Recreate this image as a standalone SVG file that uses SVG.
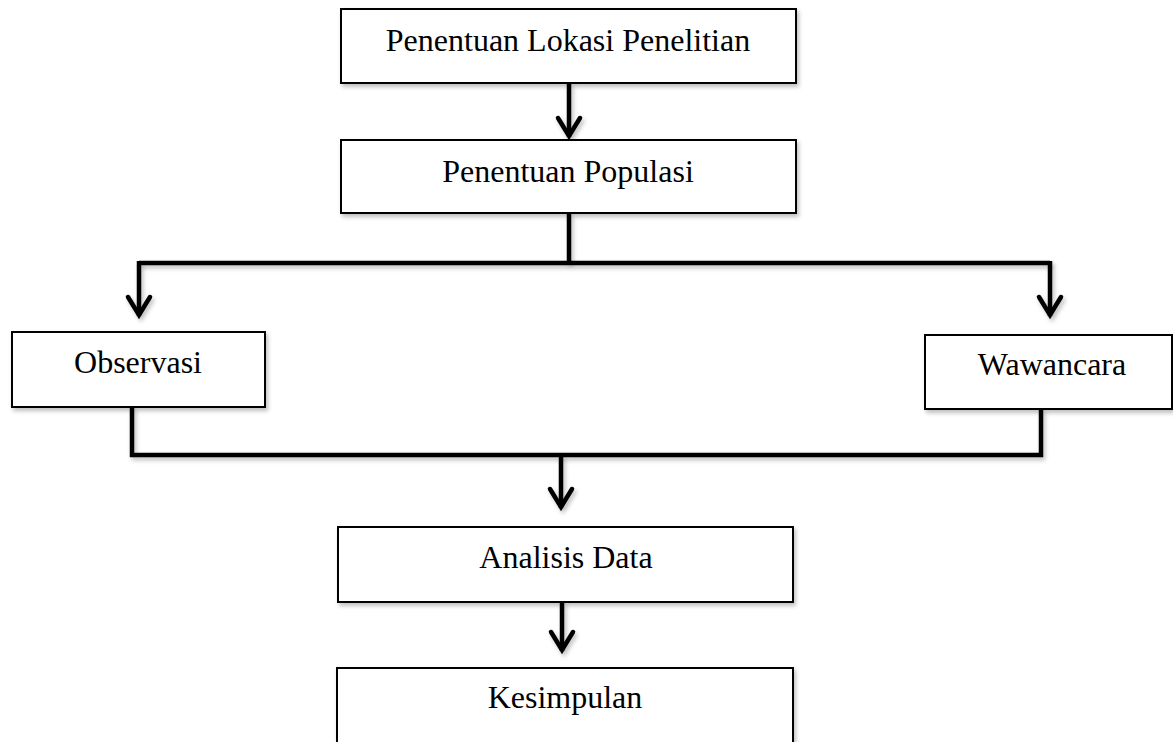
<svg xmlns="http://www.w3.org/2000/svg" width="1173" height="742" viewBox="0 0 1173 742">
  <defs>
    <filter id="sh" filterUnits="userSpaceOnUse" x="0" y="0" width="1173" height="742">
      <feDropShadow dx="2" dy="3" stdDeviation="2" flood-color="#000" flood-opacity="0.25"/>
    </filter>
    <marker id="arr" markerUnits="userSpaceOnUse" viewBox="-24 -15 28 30" refX="0" refY="0" markerWidth="28" markerHeight="30" orient="auto">
      <path d="M-19,-11 L-1,0 L-19,11" fill="none" stroke="#000" stroke-width="4.5" stroke-linejoin="miter" stroke-linecap="round"/>
    </marker>
  </defs>
  <style>
    .box { fill: #fff; stroke: #000; stroke-width: 2; filter: url(#sh); }
    .lbl { font-family: "Liberation Serif", "Times New Roman", serif; font-size: 32px; fill: #000; text-anchor: middle; }
    .con { fill: none; stroke: #000; stroke-width: 4.5; filter: url(#sh); }
  </style>
  <rect width="1173" height="742" fill="#fff"/>

  <g id="connectors">
    <path class="con" d="M569,83 L569,137" marker-end="url(#arr)"/>
    <path class="con" d="M569,213 L569,263"/>
    <path class="con" d="M139,263 L1050,263"/>
    <path class="con" d="M139,261 L139,316" marker-end="url(#arr)"/>
    <path class="con" d="M1050,261 L1050,316" marker-end="url(#arr)"/>
    <path class="con" d="M132,407 L132,455 L1041,455 L1041,409"/>
    <path class="con" d="M561,455 L561,508" marker-end="url(#arr)"/>
    <path class="con" d="M562,602 L562,651" marker-end="url(#arr)"/>
  </g>

  <g id="n1">
    <rect class="box" x="341" y="9" width="455" height="74"/>
    <text class="lbl" x="568" y="51">Penentuan Lokasi Penelitian</text>
  </g>
  <g id="n2">
    <rect class="box" x="341" y="140" width="455" height="73"/>
    <text class="lbl" x="568" y="182">Penentuan Populasi</text>
  </g>
  <g id="n3">
    <rect class="box" x="12" y="332" width="253" height="75"/>
    <text class="lbl" x="138" y="373">Observasi</text>
  </g>
  <g id="n4">
    <rect class="box" x="925" y="335" width="247" height="74"/>
    <text class="lbl" x="1052" y="375">Wawancara</text>
  </g>
  <g id="n5">
    <rect class="box" x="338" y="527" width="455" height="75"/>
    <text class="lbl" x="566" y="568">Analisis Data</text>
  </g>
  <g id="n6">
    <rect class="box" x="337" y="668" width="456" height="90"/>
    <text class="lbl" x="565" y="708">Kesimpulan</text>
  </g>
</svg>
